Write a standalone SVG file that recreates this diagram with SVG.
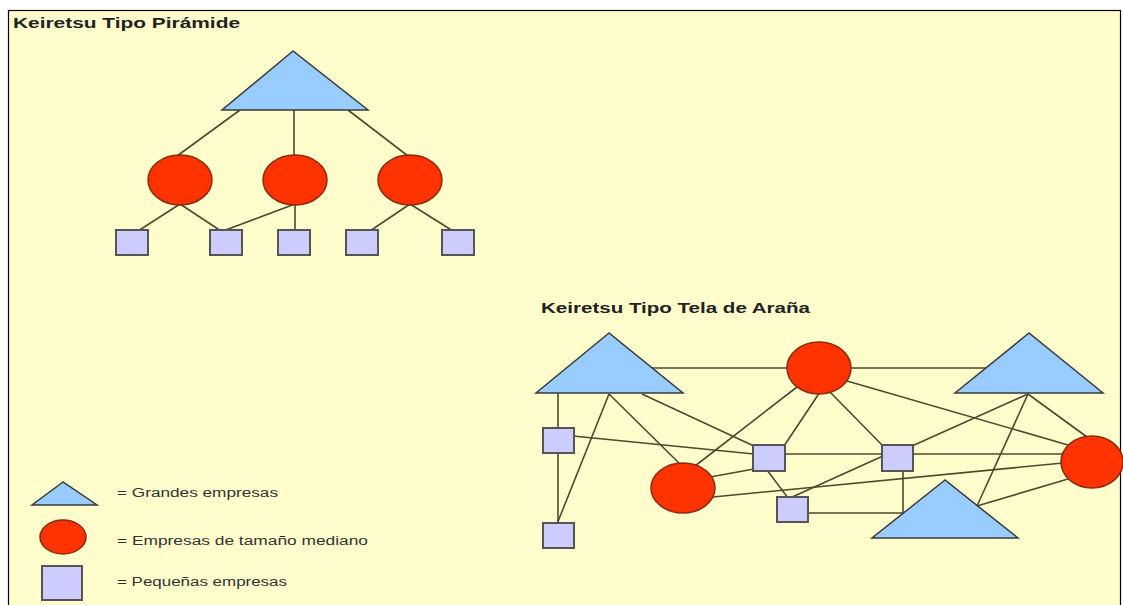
<svg xmlns="http://www.w3.org/2000/svg" width="1123" height="605" viewBox="0 0 1123 605">
<style>
.tri{fill:#99CCFF;stroke:#3a3a3a;stroke-width:1.5;stroke-linejoin:miter}
.cir{fill:#FF3300;stroke:#8a2a10;stroke-width:1.5}
.sq{fill:#CCCCFF;stroke:#555555;stroke-width:2}
.ln{stroke:#4a4a30;stroke-width:1.6;fill:none}
.title{font-family:"Liberation Sans",Arial,sans-serif;font-weight:bold;font-size:14px;fill:#222}
.leg{font-family:"Liberation Sans",Arial,sans-serif;font-size:12.5px;fill:#333}
</style>
<rect x="0" y="0" width="1123" height="605" fill="#ffffff"/>
<rect x="8.5" y="10.5" width="1112" height="600" fill="#FFFDCC" stroke="#000" stroke-width="1.2"/>

<text class="title" x="13" y="28" textLength="227" lengthAdjust="spacingAndGlyphs">Keiretsu Tipo Pirámide</text>
<text class="title" x="541" y="313" textLength="269" lengthAdjust="spacingAndGlyphs">Keiretsu Tipo Tela de Araña</text>

<g id="connectors">
  <!-- pyramid -->
  <line class="ln" x1="240" y1="110" x2="177" y2="156"/>
  <line class="ln" x1="294" y1="110" x2="294" y2="156"/>
  <line class="ln" x1="348" y1="110" x2="408" y2="156"/>
  <line class="ln" x1="180" y1="204" x2="138" y2="231"/>
  <line class="ln" x1="180" y1="204" x2="221" y2="231"/>
  <line class="ln" x1="295" y1="204" x2="223" y2="231"/>
  <line class="ln" x1="295" y1="204" x2="295" y2="231"/>
  <line class="ln" x1="410" y1="204" x2="370" y2="231"/>
  <line class="ln" x1="410" y1="204" x2="453" y2="231"/>
  <!-- spider web -->
  <line class="ln" x1="652" y1="368" x2="790" y2="368"/>
  <line class="ln" x1="848" y1="368" x2="986" y2="368"/>
  <line class="ln" x1="558" y1="393" x2="558" y2="429"/>
  <line class="ln" x1="558" y1="453" x2="558" y2="524"/>
  <line class="ln" x1="609" y1="394" x2="557" y2="524"/>
  <line class="ln" x1="609" y1="394" x2="681" y2="465"/>
  <line class="ln" x1="642" y1="394" x2="756" y2="447"/>
  <line class="ln" x1="573" y1="436" x2="754" y2="454"/>
  <line class="ln" x1="797" y1="387" x2="695" y2="466"/>
  <line class="ln" x1="820" y1="392" x2="784" y2="446"/>
  <line class="ln" x1="830" y1="392" x2="883" y2="446"/>
  <line class="ln" x1="847" y1="381" x2="1068" y2="445"/>
  <line class="ln" x1="784" y1="454" x2="883" y2="454"/>
  <line class="ln" x1="912" y1="454" x2="1063" y2="454"/>
  <line class="ln" x1="710" y1="477" x2="754" y2="469"/>
  <line class="ln" x1="713" y1="497" x2="1063" y2="463"/>
  <line class="ln" x1="767" y1="470" x2="788" y2="498"/>
  <line class="ln" x1="883" y1="456" x2="790" y2="498"/>
  <line class="ln" x1="807" y1="513" x2="904" y2="513"/>
  <line class="ln" x1="903" y1="470" x2="903" y2="513"/>
  <line class="ln" x1="1028" y1="394" x2="912" y2="446"/>
  <line class="ln" x1="1028" y1="394" x2="977" y2="506"/>
  <line class="ln" x1="1028" y1="394" x2="1087" y2="437"/>
  <line class="ln" x1="977" y1="506" x2="1068" y2="479"/>
</g>

<!-- pyramid nodes -->
<g id="p-top"><polygon class="tri" points="293,51 222,110 368,110"/></g>
<g id="p-mid1"><ellipse class="cir" cx="180" cy="180" rx="32" ry="25"/></g>
<g id="p-mid2"><ellipse class="cir" cx="295" cy="180" rx="32" ry="25"/></g>
<g id="p-mid3"><ellipse class="cir" cx="410" cy="180" rx="32" ry="25"/></g>
<g id="p-sm1"><rect class="sq" x="116" y="230" width="32" height="25"/></g>
<g id="p-sm2"><rect class="sq" x="210" y="230" width="32" height="25"/></g>
<g id="p-sm3"><rect class="sq" x="278" y="230" width="32" height="25"/></g>
<g id="p-sm4"><rect class="sq" x="346" y="230" width="32" height="25"/></g>
<g id="p-sm5"><rect class="sq" x="442" y="230" width="32" height="25"/></g>

<!-- spider nodes -->
<g id="w-triA"><polygon class="tri" points="609,333 536,393 683,393"/></g>
<g id="w-cirB"><ellipse class="cir" cx="819" cy="368" rx="32" ry="26"/></g>
<g id="w-triD"><polygon class="tri" points="1029,333 955,393 1103,393"/></g>
<g id="w-sq1"><rect class="sq" x="543" y="428" width="31" height="25"/></g>
<g id="w-sq2"><rect class="sq" x="543" y="523" width="31" height="25"/></g>
<g id="w-cirC"><ellipse class="cir" cx="683" cy="488" rx="32" ry="25"/></g>
<g id="w-sq3"><rect class="sq" x="753" y="445" width="32" height="26"/></g>
<g id="w-sq4"><rect class="sq" x="882" y="445" width="31" height="26"/></g>
<g id="w-sq5"><rect class="sq" x="777" y="497" width="31" height="25"/></g>
<g id="w-cirE"><ellipse class="cir" cx="1092" cy="462" rx="31" ry="26"/></g>
<g id="w-triF"><polygon class="tri" points="945,480 872,538 1018,538"/></g>

<!-- legend -->
<g id="legend-large">
  <polygon class="tri" points="63,482 32,505 97,505"/>
  <text class="leg" x="117" y="497" textLength="161" lengthAdjust="spacingAndGlyphs">= Grandes empresas</text>
</g>
<g id="legend-medium">
  <ellipse class="cir" cx="63" cy="537" rx="23" ry="17"/>
  <text class="leg" x="117" y="545" textLength="251" lengthAdjust="spacingAndGlyphs">= Empresas de tamaño mediano</text>
</g>
<g id="legend-small">
  <rect class="sq" x="42" y="566" width="40" height="34"/>
  <text class="leg" x="117" y="586" textLength="170" lengthAdjust="spacingAndGlyphs">= Pequeñas empresas</text>
</g>
</svg>
